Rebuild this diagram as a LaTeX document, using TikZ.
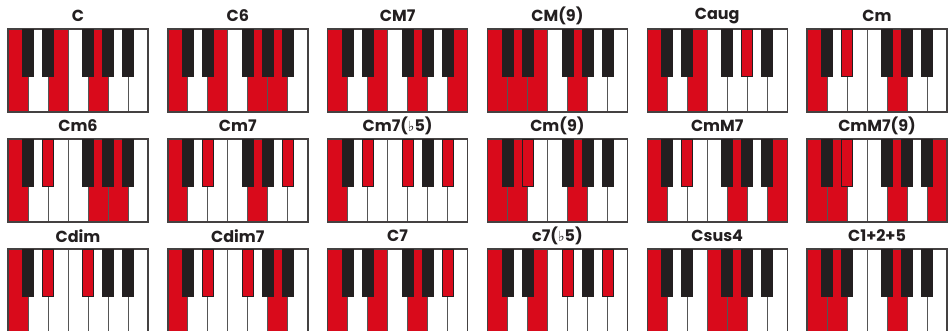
\documentclass[tikz,border=0pt]{standalone}
\usepackage{fontspec}
\setmainfont{Poppins}
\newfontfamily\flatfont{DejaVu Sans}
\definecolor{keyred}{HTML}{D90A1B}
\definecolor{keyblack}{HTML}{231F20}
\definecolor{keyline}{HTML}{555555}
\newcommand{\flatsign}{{\flatfont\fontsize{14}{14}\selectfont ♭}}

% #1 x, #2 y (top left), #3 name, #4 label, #5 red white keys, #6 red black keys
\newcommand{\chordboard}[6]{%
  \node[chordname] (#3) at ({#1+70},{#2-13}) {#4};
  \foreach \k in {1,...,7}
    \draw[whitekey] ({#1+20*(\k-1)},#2) rectangle ++(20,83);
  \foreach \k in {#5}{%
    \ifnum0\k>0 \draw[whitekey,fill=keyred] ({#1+20*(\k-1)},#2) rectangle ++(20,83);\fi}
  \draw[frame] (#1,#2) rectangle ++(140,83);
  \foreach \k in {1,...,5}{%
    \pgfmathtruncatemacro\b{\k+(\k>2)}
    \draw[blackkey] ({#1+20*\b-5.5},#2) rectangle ++(11,47);}
  \foreach \k in {#6}{%
    \ifnum0\k>0
      \pgfmathtruncatemacro\b{\k+(\k>2)}
      \draw[blackkey,fill=keyred] ({#1+20*\b-5.5},#2) rectangle ++(11,47);
    \fi}
}

\begin{document}
\begin{tikzpicture}[x=1pt, y=-1pt,
    chordname/.style={font=\bfseries\fontsize{16}{16}\selectfont,
                      text=keyblack, inner sep=0pt, anchor=center},
    whitekey/.style={draw=keyline, fill=white, line width=0.8pt},
    blackkey/.style={draw=keyblack, fill=keyblack, line width=0.8pt},
    frame/.style={draw=keyblack!85, line width=1.4pt}]
  \useasboundingbox (0,0) rectangle (949,331);
  % row 1
  \chordboard{8}{29}{c}{C}{1,3,5}{}
  \chordboard{167.8}{29}{csix}{C6}{1,3,5,6}{}
  \chordboard{327.6}{29}{cmajseven}{CM7}{1,3,5,7}{}
  \chordboard{487.4}{29}{cmajnine}{CM(9)}{1,2,3,5}{}
  \chordboard{647.2}{29}{caug}{Caug}{1,3}{4}
  \chordboard{807}{29}{cmin}{Cm}{1,5}{2}
  % row 2
  \chordboard{8}{139}{cminsix}{Cm6}{1,5,6}{2}
  \chordboard{167.8}{139}{cminseven}{Cm7}{1,5}{2,5}
  \chordboard{327.6}{139}{chalfdim}{Cm7(\flatsign5)}{1}{2,3,5}
  \chordboard{487.4}{139}{cminnine}{Cm(9)}{1,2,5}{2}
  \chordboard{647.2}{139}{cminmaj}{CmM7}{1,5,7}{2}
  \chordboard{807}{139}{cminmajnine}{CmM7(9)}{1,2,5,7}{2}
  % row 3
  \chordboard{8}{249}{cdim}{Cdim}{1}{2,3}
  \chordboard{167.8}{249}{cdimseven}{Cdim7}{1,6}{2,3}
  \chordboard{327.6}{249}{cseven}{C7}{1,3,5}{5}
  \chordboard{487.4}{249}{csevenflat}{c7(\flatsign5)}{1,3}{3,5}
  \chordboard{647.2}{249}{csusfour}{Csus4}{1,4,5}{}
  \chordboard{807}{249}{cadd}{C1+2+5}{1,2,5}{}
\end{tikzpicture}
\end{document}
